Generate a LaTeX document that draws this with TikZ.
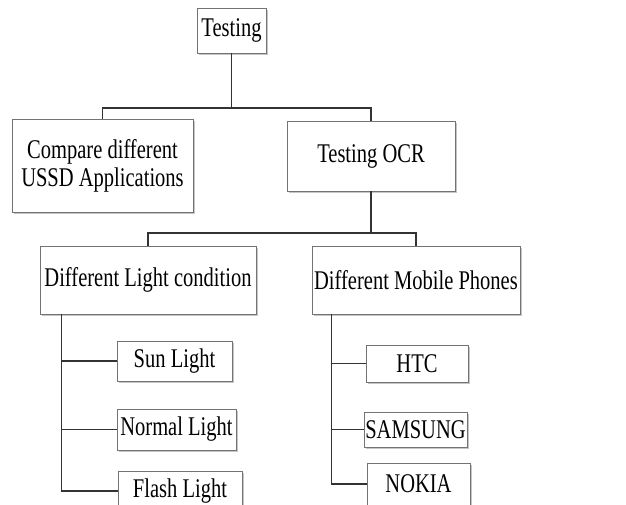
\documentclass[tikz,border=0pt]{standalone}
\usepackage{fontspec}
\setmainfont{Liberation Serif}[FakeStretch=0.76]
\usetikzlibrary{shadows}

\begin{document}
\begin{tikzpicture}[x=0.75pt,y=-0.75pt,
  box/.style={draw=black!55, line width=0.6pt, fill=white, inner sep=0pt, align=center,
    font=\fontsize{20.25}{21}\selectfont,
    drop shadow={shadow xshift=1.2pt, shadow yshift=-1.6pt, opacity=0.45}},
  link/.style={draw=black!80, line width=1.1pt}]
\useasboundingbox (0,0) rectangle (626,505);
\clip (0,0) rectangle (626,505);

%Boxes: top levels
\node[box, minimum width=51.75pt, minimum height=33.75pt] (test) at (231.5,30.5) {Testing};
\node[box, minimum width=135.75pt, minimum height=69.75pt] (cmp) at (102.5,165.5) {Compare different\\USSD Applications};
\node[box, minimum width=126pt, minimum height=52.5pt] (ocr) at (371,156) {Testing OCR};
\node[box, minimum width=162pt, minimum height=51pt] (light) at (148,280) {Different Light condition};
\node[box, minimum width=156pt, minimum height=51pt] (mobile) at (416,280) {Different Mobile Phones};

%Boxes: light conditions
\node[box, minimum width=86.25pt, minimum height=30pt] (sun) at (174.5,361) {Sun Light};
\node[box, minimum width=89.25pt, minimum height=30.75pt] (normal) at (176.5,429.5) {Normal Light};
\node[box, minimum width=93pt, minimum height=30pt] (flash) at (180,491) {Flash Light};

%Boxes: mobile phones
\node[box, minimum width=76.5pt, minimum height=27.75pt] (htc) at (417,363.5) {HTC};
\node[box, minimum width=77.25pt, minimum height=26.25pt] (samsung) at (415.5,429.5) {SAMSUNG};
\node[box, minimum width=77.25pt, minimum height=31.5pt] (nokia) at (418.5,484) {NOKIA};

%Connectors
\coordinate (j1) at (test.south |- 0,108);
\draw[link] (test.south) -- (j1);
\draw[link] (cmp.north) |- (j1) -| (ocr.north);
\coordinate (j2) at (ocr.south |- 0,233);
\draw[link] (ocr.south) -- (j2);
\draw[link] (light.north) |- (j2) -| (mobile.north);

%Trunks
\coordinate (lt) at ([xshift=16.5pt]light.south west);
\draw[link] (lt) |- (flash.west);
\draw[link] (lt |- sun.west) -- (sun.west);
\draw[link] (lt |- normal.west) -- (normal.west);
\coordinate (rt) at ([xshift=15pt]mobile.south west);
\draw[link] (rt) |- (nokia.west);
\draw[link] (rt |- htc.west) -- (htc.west);
\draw[link] (rt |- samsung.west) -- (samsung.west);

\end{tikzpicture}
\end{document}
